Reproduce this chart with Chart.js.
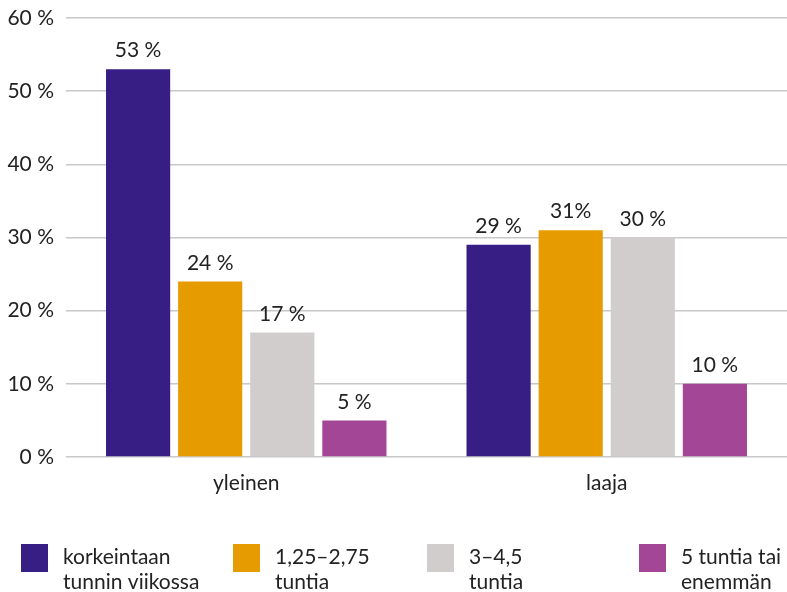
<!DOCTYPE html>
<html>
<head>
<meta charset="utf-8">
<script src="https://cdn.jsdelivr.net/npm/chart.js@4"></script>
<style>
  html, body { margin: 0; padding: 0; background: #fff; }
  #wrap { width: 787px; height: 592px; position: relative; }
</style>
</head>
<body>
<div id="wrap"><canvas id="chart"></canvas></div>
<script>
// categories and series
const categories = ["yleinen", "laaja"];
const seriesNames = [
  ["korkeintaan", "tunnin viikossa"],
  ["1,25–2,75", "tuntia"],
  ["3–4,5", "tuntia"],
  ["5 tuntia tai", "enemmän"]
];
const lowest = [53, 29];
const low = [24, 31];
const mid = [17, 30];
const high = [5, 10];
// value labels as printed above the bars
const lowestLabels = ["53 %", "29 %"];
const lowLabels = ["24 %", "31%"];
const midLabels = ["17 %", "30 %"];
const highLabels = ["5 %", "10 %"];
const yTicks = [0, 10, 20, 30, 40, 50, 60];

const colors = ["#361e84", "#e69c00", "#d1cdcd", "#a44696"];
const FONT = "Lato, 'Open Sans', sans-serif";
const TEXT = "#222";

const seriesValues = [lowest, low, mid, high];
const seriesLabels = [lowestLabels, lowLabels, midLabels, highLabels];

// value labels above bars
const valueLabels = {
  id: "valueLabels",
  afterDatasetsDraw(chart) {
    const ctx = chart.ctx;
    ctx.save();
    ctx.font = "21px " + FONT;
    ctx.fillStyle = TEXT;
    ctx.textAlign = "center";
    ctx.textBaseline = "bottom";
    chart.data.datasets.forEach((ds, i) => {
      chart.getDatasetMeta(i).data.forEach((bar, j) => {
        ctx.fillText(ds.valueText[j], bar.x, bar.y - 8);
      });
    });
    ctx.restore();
  }
};

// legend drawn at the bottom with two-line labels
const bottomLegend = {
  id: "bottomLegend",
  afterDraw(chart, args, opts) {
    const ctx = chart.ctx;
    ctx.save();
    ctx.font = "21px " + FONT;
    ctx.textAlign = "left";
    ctx.textBaseline = "alphabetic";
    chart.data.datasets.forEach((ds, i) => {
      const x = opts.xs[i];
      ctx.fillStyle = ds.backgroundColor;
      ctx.fillRect(x, opts.boxTop, 27, 28);
      ctx.fillStyle = TEXT;
      ds.label.forEach((line, k) => {
        ctx.fillText(line, x + 42, opts.baseline + k * 25);
      });
    });
    ctx.restore();
  }
};

new Chart(document.getElementById("chart"), {
  type: "bar",
  data: {
    labels: categories,
    datasets: seriesValues.map((vals, i) => ({
      label: seriesNames[i],
      data: vals,
      valueText: seriesLabels[i],
      backgroundColor: colors[i],
      borderWidth: 0,
      categoryPercentage: 0.8,
      barPercentage: 0.89
    }))
  },
  options: {
    responsive: true,
    maintainAspectRatio: false,
    animation: false,
    layout: { padding: { left: 6, right: 0, top: 18, bottom: 75 } },
    plugins: {
      legend: { display: false },
      tooltip: { enabled: false },
      bottomLegend: { xs: [21, 233, 427, 639], boxTop: 544, baseline: 564 }
    },
    scales: {
      x: {
        grid: { display: false },
        border: { display: false },
        ticks: { color: TEXT, font: { family: FONT, size: 21 }, padding: 6 },
        afterFit(axis) { axis.height = 60; }
      },
      y: {
        min: 0,
        max: 60,
        afterBuildTicks(axis) { axis.ticks = yTicks.map(v => ({ value: v })); },
        afterFit(axis) { axis.width = 60; axis.paddingTop = 0; axis.paddingBottom = 0; },
        grid: { color: "#c8c8c8", lineWidth: 1.5, drawTicks: false },
        border: { display: false },
        ticks: {
          color: TEXT,
          font: { family: FONT, size: 21 },
          padding: 12,
          callback: v => v + " %"
        }
      }
    }
  },
  plugins: [valueLabels, bottomLegend]
});
</script>
</body>
</html>
